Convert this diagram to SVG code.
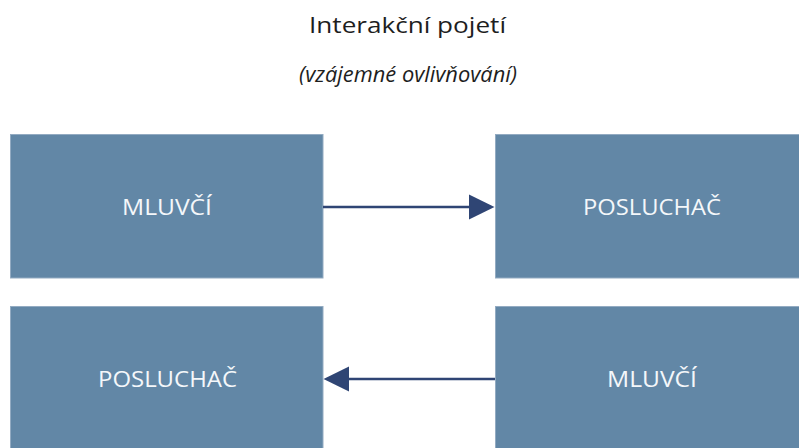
<svg xmlns="http://www.w3.org/2000/svg" width="799" height="448" viewBox="0 0 799 448">
  <style>
    .box { fill: #6287a6; stroke: #93abc2; stroke-width: 1; }
    .lbl { fill: #f4f7fa; font-family: "Open Sans", "Liberation Sans", sans-serif; font-size: 21px; text-anchor: middle; }
    .title { fill: #1e1e1e; font-family: "Open Sans", "Liberation Sans", sans-serif; font-size: 21px; text-anchor: middle; }
    .sub { font-style: italic; }
    .conn { stroke: #2f4574; stroke-width: 2.5; fill: none; }
    .head { fill: #2f4574; }
  </style>
  <rect width="799" height="448" fill="#ffffff"/>

  <text class="title" x="407.5" y="33" textLength="197" lengthAdjust="spacingAndGlyphs">Interakční pojetí</text>
  <text class="title sub" x="408" y="82" textLength="218" lengthAdjust="spacingAndGlyphs">(vzájemné ovlivňování)</text>

  <g id="mluvci-top">
    <rect class="box" x="10.5" y="134.5" width="312.5" height="143.5"/>
    <text class="lbl" x="167" y="215" textLength="90" lengthAdjust="spacingAndGlyphs">MLUVČÍ</text>
  </g>
  <g id="posluchac-top">
    <rect class="box" x="495.5" y="134.5" width="310" height="143.5"/>
    <text class="lbl" x="652" y="215" textLength="138" lengthAdjust="spacingAndGlyphs">POSLUCHAČ</text>
  </g>
  <g id="posluchac-bottom">
    <rect class="box" x="10.5" y="306.5" width="312.5" height="146"/>
    <text class="lbl" x="167.5" y="387" textLength="139" lengthAdjust="spacingAndGlyphs">POSLUCHAČ</text>
  </g>
  <g id="mluvci-bottom">
    <rect class="box" x="495.5" y="306.5" width="310" height="146"/>
    <text class="lbl" x="652" y="387" textLength="90" lengthAdjust="spacingAndGlyphs">MLUVČÍ</text>
  </g>

  <g id="connectors">
    <line class="conn" x1="323" y1="207" x2="471" y2="207"/>
    <polygon class="head" points="469,194.5 494.5,207 469,219.5"/>
    <line class="conn" x1="347" y1="379" x2="495" y2="379"/>
    <polygon class="head" points="349,366.5 323.5,379 349,391.5"/>
  </g>
</svg>
